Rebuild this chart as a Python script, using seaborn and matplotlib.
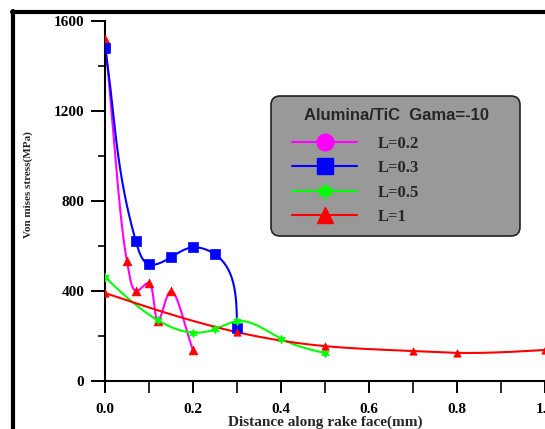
import numpy as np
import pandas as pd
import matplotlib
matplotlib.use("Agg")
import matplotlib.pyplot as plt
import seaborn as sns
from matplotlib.lines import Line2D
from matplotlib.patches import FancyBboxPatch
from matplotlib.ticker import MultipleLocator, FormatStrFormatter

# ---- data ----
x_l02 = [0.0, 0.05, 0.07, 0.10, 0.12, 0.15, 0.20]
y_l02 = [1520, 532, 400, 435, 267, 400, 137]
x_l03 = [0.0, 0.07, 0.10, 0.15, 0.20, 0.25, 0.30]
y_l03 = [1480, 622, 518, 550, 594, 563, 235]
x_l05 = [0.0, 0.12, 0.20, 0.25, 0.30, 0.40, 0.50]
y_l05 = [462, 270, 215, 230, 266, 188, 124]
x_l1 = [0.0, 0.30, 0.50, 0.70, 0.80, 1.00]
y_l1 = [391, 217, 155, 133, 125, 138]
series_labels = ["L=0.2", "L=0.3", "L=0.5", "L=1"]
legend_title = "Alumina/TiC  Gama=-10"
x_ticks = [0.0, 0.2, 0.4, 0.6, 0.8, 1.0]
y_ticks = [0, 400, 800, 1200, 1600]

SX, SY = 440.0, 360.0 / 1600.0   # data -> display scale, so curves look right


def _natural(t, v, clamp_start=False):
    n = len(t)
    h = np.diff(t)
    A = np.zeros((n, n))
    b = np.zeros(n)
    if clamp_start:          # start tangent along the first chord
        A[0, 0], A[0, 1] = 2 * h[0], h[0]
    else:
        A[0, 0] = 1.0
    A[-1, -1] = 1.0
    for i in range(1, n - 1):
        A[i, i - 1] = h[i - 1]
        A[i, i] = 2 * (h[i - 1] + h[i])
        A[i, i + 1] = h[i]
        b[i] = 6 * ((v[i + 1] - v[i]) / h[i] - (v[i] - v[i - 1]) / h[i - 1])
    return np.linalg.solve(A, b)


def _eval(t, v, M, tt):
    out = np.empty_like(tt)
    idx = np.clip(np.searchsorted(t, tt) - 1, 0, len(t) - 2)
    for k, (x, i) in enumerate(zip(tt, idx)):
        h = t[i + 1] - t[i]
        a = (t[i + 1] - x) / h
        c = (x - t[i]) / h
        out[k] = (a * v[i] + c * v[i + 1]
                  + ((a ** 3 - a) * M[i] + (c ** 3 - c) * M[i + 1]) * h * h / 6)
    return out


def spline_natural(xs, ys, n=500, clamp_start=False):
    X = np.asarray(xs, float) * SX
    Y = np.asarray(ys, float) * SY
    t = np.concatenate([[0], np.cumsum(np.hypot(np.diff(X), np.diff(Y)))])
    tt = np.linspace(0, t[-1], n)
    xx = _eval(t, X, _natural(t, X, clamp_start), tt)
    yy = _eval(t, Y, _natural(t, Y, clamp_start), tt)
    return pd.DataFrame({"x": xx / SX, "y": yy / SY})


def spline_clamped(xs, ys):
    return spline_natural(xs, ys, clamp_start=True)


def spline_cr(xs, ys, n=60, alpha=0.5):
    P = np.column_stack([np.asarray(xs, float) * SX, np.asarray(ys, float) * SY])
    P = np.vstack([2 * P[0] - P[1], P, 2 * P[-1] - P[-2]])
    out = []
    for i in range(1, len(P) - 2):
        p0, p1, p2, p3 = P[i - 1], P[i], P[i + 1], P[i + 2]
        t0 = 0.0
        t1 = t0 + max(np.linalg.norm(p1 - p0), 1e-6) ** alpha
        t2 = t1 + max(np.linalg.norm(p2 - p1), 1e-6) ** alpha
        t3 = t2 + max(np.linalg.norm(p3 - p2), 1e-6) ** alpha
        t = np.linspace(t1, t2, n)[:, None]
        A1 = (t1 - t) / (t1 - t0) * p0 + (t - t0) / (t1 - t0) * p1
        A2 = (t2 - t) / (t2 - t1) * p1 + (t - t1) / (t2 - t1) * p2
        A3 = (t3 - t) / (t3 - t2) * p2 + (t - t2) / (t3 - t2) * p3
        B1 = (t2 - t) / (t2 - t0) * A1 + (t - t0) / (t2 - t0) * A2
        B2 = (t3 - t) / (t3 - t1) * A2 + (t - t1) / (t3 - t1) * A3
        C = (t2 - t) / (t2 - t1) * B1 + (t - t1) / (t2 - t1) * B2
        out.append(C if i == 1 else C[1:])
    C = np.vstack(out)
    return pd.DataFrame({"x": C[:, 0] / SX, "y": C[:, 1] / SY})


sns.set_style("ticks")
plt.rcParams["font.family"] = ["Liberation Serif", "DejaVu Serif"]

fig = plt.figure(figsize=(5.45, 4.29), dpi=100)
ax = fig.add_axes([105 / 545, 1 - 381 / 429, 440 / 545, 360 / 429])

MAG, BLU, GRN, RED = "#FF00FF", "#0000FF", "#00FF00", "#FF0000"
star6 = (6, 1, 0)

specs = [
    (x_l02, y_l02, MAG, "^", RED, 40, spline_cr),
    (x_l03, y_l03, BLU, "s", BLU, 45, spline_clamped),
    (x_l05, y_l05, GRN, star6, GRN, 40, spline_natural),
    (x_l1, y_l1, RED, "^", RED, 28, spline_natural),
]
for xs, ys, lc, mk, mc, ms, fn in specs:
    sns.lineplot(data=fn(xs, ys), x="x", y="y", sort=False, estimator=None,
                 color=lc, lw=1.5, ax=ax, zorder=2)
for xs, ys, lc, mk, mc, ms, fn in specs:
    sns.scatterplot(x=xs, y=ys, marker=mk, color=mc, edgecolor=mc, s=ms,
                    linewidth=0.5, ax=ax, zorder=3)

ax.set_xlim(0, 1.0)
ax.set_ylim(0, 1600)
ax.set_xticks(x_ticks)
ax.set_yticks(y_ticks)
ax.xaxis.set_major_formatter(FormatStrFormatter("%.1f"))
ax.xaxis.set_minor_locator(MultipleLocator(0.1))
ax.yaxis.set_minor_locator(MultipleLocator(200))
for s in ["top", "right"]:
    ax.spines[s].set_visible(False)
for s in ["left", "bottom"]:
    ax.spines[s].set_linewidth(1.5)
    ax.spines[s].set_color("black")
ax.tick_params(axis="x", which="major", length=8.5, width=1.4, pad=7,
               labelsize=11, colors="black")
ax.tick_params(axis="x", which="minor", length=8.5, width=1.4)
ax.tick_params(axis="y", which="major", length=10, width=1.4, pad=5,
               labelsize=11, colors="black")
ax.tick_params(axis="y", which="minor", length=5, width=1.4)
for lab in ax.get_xticklabels() + ax.get_yticklabels():
    lab.set_fontweight("bold")

ax.set_xlabel("Distance along rake face(mm)", fontsize=11, fontweight="bold")
ax.set_ylabel("Von mises stress(MPa)", fontsize=8, fontweight="bold")
ax.xaxis.set_label_coords((325 - 105) / 440, (381 - 416) / 360)
ax.yaxis.set_label_coords((33 - 105) / 440, (381 - 185) / 360)

# ---- legend: gray rounded box, sans title, serif entries ----
box = FancyBboxPatch((271 / 100, (429 - 236) / 100), 249 / 100, 140 / 100,
                     boxstyle="round,pad=0,rounding_size=0.09",
                     transform=fig.dpi_scale_trans, facecolor="#999999",
                     edgecolor="#222222", linewidth=1.2, zorder=4, clip_on=False)
ax.add_patch(box)
ax.text(396 / 545, 1 - 115 / 429, legend_title, transform=fig.transFigure,
        ha="center", va="center", fontsize=12, fontweight="bold",
        family=["Liberation Sans", "DejaVu Sans"], zorder=5)

handles = [
    Line2D([], [], color=MAG, lw=1.5, marker="o", markersize=12, markerfacecolor=MAG, markeredgecolor=MAG),
    Line2D([], [], color=BLU, lw=1.5, marker="s", markersize=12, markerfacecolor=BLU, markeredgecolor=BLU),
    Line2D([], [], color=GRN, lw=1.5, marker=star6, markersize=11, markerfacecolor=GRN, markeredgecolor=GRN),
    Line2D([], [], color=RED, lw=1.5, marker="^", markersize=12, markerfacecolor=RED, markeredgecolor=RED),
]
leg = ax.legend(handles, series_labels, loc="upper left",
                bbox_to_anchor=(292 / 545, 1 - 136 / 429), bbox_transform=fig.transFigure,
                frameon=False, handlelength=3.9, handletextpad=1.26,
                labelspacing=0.5, borderpad=0, borderaxespad=0,
                prop={"family": "Liberation Serif", "weight": "bold", "size": 12})
leg.set_zorder(6)

# page border lines
fig.add_artist(Line2D([12 / 545, 1.0], [1 - 12 / 429, 1 - 12 / 429], color="black", lw=3,
                      transform=fig.transFigure))
fig.add_artist(Line2D([13 / 545, 13 / 545], [0, 1 - 11 / 429], color="black", lw=3,
                      transform=fig.transFigure))

fig.savefig("out.png", dpi=100)
